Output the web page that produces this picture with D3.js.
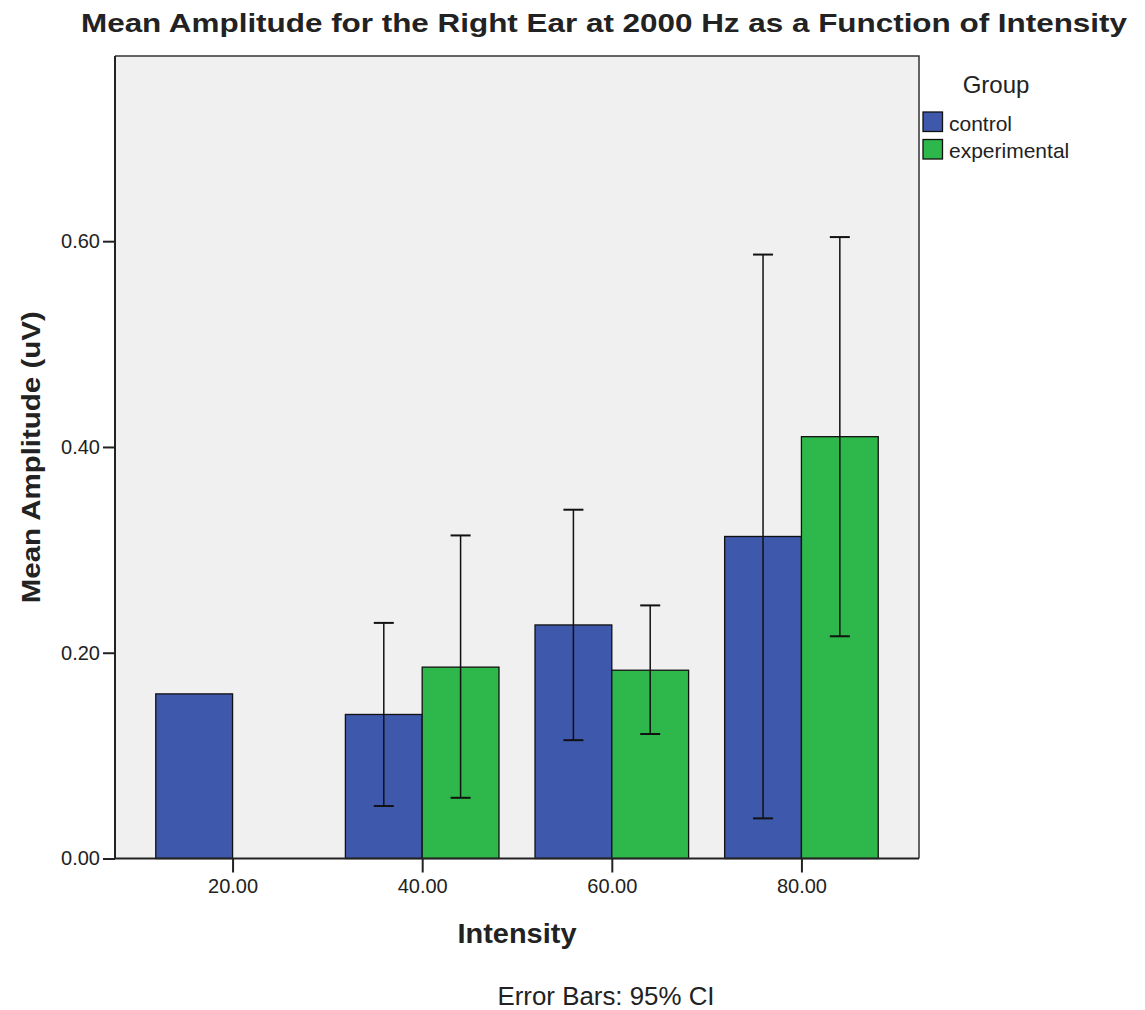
<!DOCTYPE html>
<html>
<head>
<meta charset="utf-8">
<title>Mean Amplitude - Right Ear 2000 Hz</title>
<script src="https://d3js.org/d3.v7.min.js"></script>
<style>
  body { margin: 0; background: #fff; }
  text { font-family: "Liberation Sans", Arial, sans-serif; fill: #222; }
</style>
</head>
<body>
<svg id="chart" width="1145" height="1010"></svg>
<script>
// ---- data ----
var intensities = ["20.00", "40.00", "60.00", "80.00"];
var groups = ["control", "experimental"];
var groupColors = ["#3e58ab", "#2eb84b"];

var controlMean = [0.160, 0.140, 0.227, 0.313];
var controlLow  = [null, 0.051, 0.115, 0.039];
var controlHigh = [null, 0.229, 0.339, 0.587];

var expMean = [null, 0.186, 0.183, 0.410];
var expLow  = [null, 0.059, 0.121, 0.216];
var expHigh = [null, 0.314, 0.246, 0.604];

var yTicks = [0, 0.2, 0.4, 0.6];

// ---- layout ----
var plotL = 115, plotR = 919, plotT = 56, plotB = 858.5;
var svg = d3.select("#chart");

var x = d3.scalePoint().domain(intensities).range([plotL, plotR]).padding(0.62);
var barW = x.step() * 0.405;
var xSub = d3.scaleBand().domain(groups).range([-barW, barW]);
var y = d3.scaleLinear().domain([0, 0.78]).range([plotB, plotT]);
var color = d3.scaleOrdinal().domain(groups).range(groupColors);

// rows for the bars
var rows = [];
intensities.forEach(function (k, i) {
  rows.push({ cat: k, group: "control", mean: controlMean[i], lo: controlLow[i], hi: controlHigh[i] });
  rows.push({ cat: k, group: "experimental", mean: expMean[i], lo: expLow[i], hi: expHigh[i] });
});
var bars = rows.filter(function (d) { return d.mean != null; });
var errs = rows.filter(function (d) { return d.lo != null; });

// plot background
svg.append("rect")
  .attr("x", plotL).attr("y", plotT)
  .attr("width", plotR - plotL).attr("height", plotB - plotT)
  .attr("fill", "#f0f0f0");

// bars
svg.append("g").selectAll("rect")
  .data(bars).enter().append("rect")
  .attr("x", function (d) { return x(d.cat) + xSub(d.group); })
  .attr("y", function (d) { return y(d.mean); })
  .attr("width", xSub.bandwidth())
  .attr("height", function (d) { return y(0) - y(d.mean); })
  .attr("fill", function (d) { return color(d.group); })
  .attr("stroke", "#111")
  .attr("stroke-width", 1.3);

// error bars
var eg = svg.append("g").attr("stroke", "#111").attr("stroke-width", 1.5);
var capW = 10;
errs.forEach(function (d) {
  var cx = x(d.cat) + xSub(d.group) + xSub.bandwidth() / 2;
  eg.append("line").attr("x1", cx).attr("x2", cx).attr("y1", y(d.lo)).attr("y2", y(d.hi));
  eg.append("line").attr("x1", cx - capW).attr("x2", cx + capW).attr("y1", y(d.lo)).attr("y2", y(d.lo)).attr("stroke-width", 2);
  eg.append("line").attr("x1", cx - capW).attr("x2", cx + capW).attr("y1", y(d.hi)).attr("y2", y(d.hi)).attr("stroke-width", 2);
});

// plot frame (top and right)
svg.append("path")
  .attr("d", "M" + plotL + "," + plotT + "H" + plotR + "V" + plotB)
  .attr("fill", "none").attr("stroke", "#333").attr("stroke-width", 1.5);

// axes
var yAxis = d3.axisLeft(y).tickValues(yTicks).tickFormat(d3.format(".2f")).tickSize(12).tickPadding(3);
var gy = svg.append("g").attr("transform", "translate(" + plotL + ",0)").call(yAxis);
var xAxis = d3.axisBottom(x).tickSize(14).tickPadding(6);
var gx = svg.append("g").attr("transform", "translate(0," + plotB + ")").call(xAxis);
gx.select(".domain").attr("d", "M" + plotL + ",0H" + plotR);
gy.select(".domain").attr("d", "M0," + plotT + "V" + plotB);

[gy, gx].forEach(function (g) {
  g.selectAll(".domain").attr("stroke", "#222").attr("stroke-width", 2);
  g.selectAll(".tick line").attr("stroke", "#222").attr("stroke-width", 2);
  g.selectAll(".tick text").attr("font-family", "Liberation Sans, Arial, sans-serif")
    .attr("font-size", 20).attr("fill", "#222");
});

// titles
svg.append("text").attr("x", 604).attr("y", 32).attr("text-anchor", "middle")
  .attr("font-size", 25).attr("font-weight", "bold").attr("fill", "#111")
  .attr("textLength", 1046).attr("lengthAdjust", "spacingAndGlyphs")
  .text("Mean Amplitude for the Right Ear at 2000 Hz as a Function of Intensity");

svg.append("text").attr("transform", "translate(40," + (plotT + plotB) / 2 + ") rotate(-90)")
  .attr("text-anchor", "middle").attr("font-size", 26).attr("font-weight", "bold").attr("fill", "#111")
  .attr("textLength", 292).attr("lengthAdjust", "spacingAndGlyphs")
  .text("Mean Amplitude (uV)");

svg.append("text").attr("x", (plotL + plotR) / 2).attr("y", 943).attr("text-anchor", "middle")
  .attr("font-size", 28).attr("font-weight", "bold").attr("fill", "#111")
  .attr("textLength", 119).attr("lengthAdjust", "spacingAndGlyphs")
  .text("Intensity");

svg.append("text").attr("x", 606).attr("y", 1005).attr("text-anchor", "middle")
  .attr("font-size", 25).attr("fill", "#222")
  .attr("textLength", 217).attr("lengthAdjust", "spacingAndGlyphs")
  .text("Error Bars: 95% CI");

// legend
var lg = svg.append("g").attr("transform", "translate(923,0)");
lg.append("text").attr("x", 73).attr("y", 93).attr("text-anchor", "middle")
  .attr("font-size", 24).attr("fill", "#333").text("Group");
var li = lg.selectAll("g.item").data(groups).enter().append("g")
  .attr("class", "item")
  .attr("transform", function (d, i) { return "translate(0," + (112 + i * 27.5) + ")"; });
li.append("rect").attr("width", 19.5).attr("height", 19.5)
  .attr("fill", function (d) { return color(d); })
  .attr("stroke", "#111").attr("stroke-width", 1.3);
li.append("text").attr("x", 26).attr("y", 18.5).attr("font-size", 21).attr("fill", "#222")
  .text(function (d) { return d; });
</script>
</body>
</html>
